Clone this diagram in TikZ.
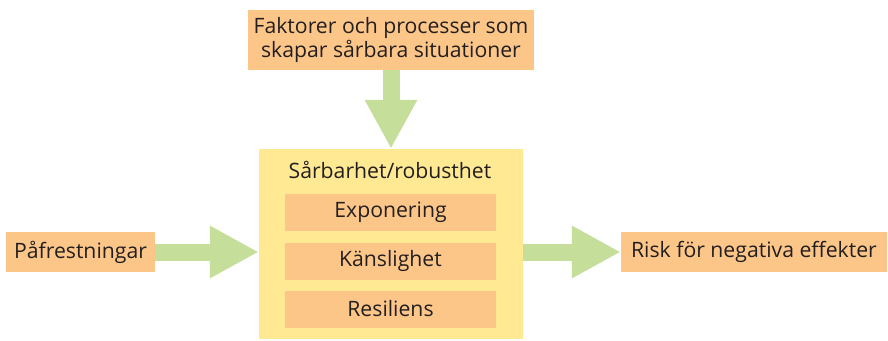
\documentclass[tikz,border=0pt]{standalone}
\usepackage{fontspec}
\setmainfont{Open Sans}
\usetikzlibrary{arrows.meta}
\definecolor{boxorange}{HTML}{FDC689}
\definecolor{boxyellow}{HTML}{FFE992}
\definecolor{arrowgreen}{HTML}{C5DF9B}
\definecolor{txt}{HTML}{231F20}
\begin{document}
\begin{tikzpicture}[x=1pt, y=-1pt,
  lbl/.style={fill=boxorange, text=txt, font=\fontsize{21.2}{24.5}\selectfont,
    inner sep=0pt, align=center},
  flow/.style={draw=arrowgreen, fill=arrowgreen, line width=17pt,
    -{Triangle[length=49pt, width=49pt]}}]
\useasboundingbox (0,0) rectangle (888,340);
% sources and outcome
\node[lbl, minimum width=286, minimum height=60] (factors) at (391,40)
  {Faktorer och processer som\\skapar sårbara situationer};
\node[lbl, minimum width=149, minimum height=40] (stress) at (80.5,252) {Påfrestningar};
\node[lbl, minimum width=266, minimum height=40] (risk) at (754,252) {Risk för negativa effekter};
% vulnerability block
\node[fill=boxyellow, minimum width=264, minimum height=190, inner sep=0pt] (vuln) at (391,244) {};
\node[text=txt, font=\fontsize{21.2}{24.5}\selectfont, inner sep=0pt] (title) at (390,170) {Sårbarhet/robusthet};
\node[lbl, minimum width=211, minimum height=37] (expo) at (390.5,212.5) {Exponering};
\node[lbl, minimum width=211, minimum height=37] (sens) at (390.5,261) {Känslighet};
\node[lbl, minimum width=211, minimum height=37] (resil) at (390.5,309) {Resiliens};
% flows
\draw[flow] (factors.south) -- (vuln.north);
\draw[flow] (stress.east) -- (stress.east -| vuln.west);
\draw[flow] (risk.west -| vuln.east) -- (risk.west);
\end{tikzpicture}
\end{document}
